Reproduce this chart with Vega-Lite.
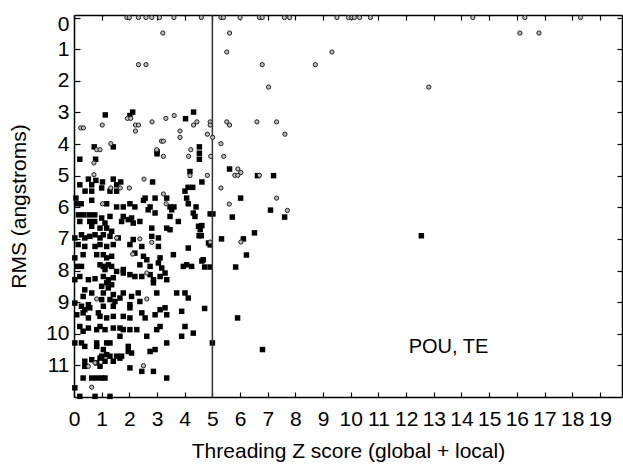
{
"$schema": "https://vega.github.io/schema/vega-lite/v6.json",
"width": 548, "height": 382,
"autosize": {"type": "none"},
"padding": {"left": 74, "top": 15, "right": 1, "bottom": 67},
"background": "white",
"config": {"view": {"stroke": null}, "font": "Liberation Sans",
 "axis": {"grid": false, "domainColor": "#000", "domainWidth": 1.5, "tickColor": "#000", "tickWidth": 1.2, "labelColor": "#000", "labelFont": "Liberation Sans", "titleFont": "Liberation Sans", "titleColor": "#000", "titleFontWeight": "normal"}},
"datasets": {
"pts": [
{"x":1.91,"y":0,"t":"c"},{"x":2.0,"y":0,"t":"c"},{"x":2.33,"y":0,"t":"c"},{"x":2.6,"y":0,"t":"c"},{"x":2.81,"y":0,"t":"c"},{"x":3.09,"y":0,"t":"c"},{"x":3.61,"y":0,"t":"c"},{"x":4.6,"y":0,"t":"c"},{"x":5.31,"y":0,"t":"c"},{"x":5.4,"y":0,"t":"c"},{"x":6.0,"y":0,"t":"c"},{"x":6.7,"y":0,"t":"c"},{"x":6.8,"y":0,"t":"c"},{"x":7.6,"y":0,"t":"c"},{"x":7.79,"y":0,"t":"c"},{"x":9.5,"y":0,"t":"c"},{"x":9.92,"y":0,"t":"c"},{"x":10.04,"y":0,"t":"c"},{"x":10.13,"y":0,"t":"c"},{"x":10.32,"y":0,"t":"c"},{"x":10.71,"y":0,"t":"c"},{"x":14.41,"y":0,"t":"c"},{"x":16.29,"y":0,"t":"c"},{"x":18.3,"y":0,"t":"c"},
{"x":3.21,"y":0.49,"t":"c"},{"x":5.62,"y":0.49,"t":"c"},{"x":16.11,"y":0.49,"t":"c"},{"x":16.8,"y":0.49,"t":"c"},
{"x":5.52,"y":1.09,"t":"c"},{"x":9.32,"y":1.09,"t":"c"},
{"x":2.33,"y":1.49,"t":"c"},{"x":2.6,"y":1.49,"t":"c"},{"x":6.8,"y":1.49,"t":"c"},{"x":8.72,"y":1.49,"t":"c"},
{"x":7.03,"y":2.2,"t":"c"},{"x":12.82,"y":2.2,"t":"c"},
{"x":1.93,"y":3.19,"t":"c"},{"x":2.05,"y":3.19,"t":"c"},{"x":0.24,"y":3.49,"t":"c"},{"x":0.34,"y":3.49,"t":"c"},{"x":1.02,"y":3.4,"t":"c"},{"x":2.22,"y":3.4,"t":"c"},{"x":2.33,"y":3.4,"t":"c"},{"x":2.22,"y":3.59,"t":"c"},{"x":2.82,"y":3.3,"t":"c"},{"x":3.32,"y":3.19,"t":"c"},{"x":3.62,"y":3.1,"t":"c"},{"x":3.83,"y":3.59,"t":"c"},{"x":3.83,"y":3.79,"t":"c"},{"x":4.32,"y":3.4,"t":"c"},{"x":4.44,"y":3.3,"t":"c"},{"x":4.92,"y":3.3,"t":"c"},{"x":4.92,"y":3.4,"t":"c"},{"x":4.82,"y":3.69,"t":"c"},{"x":5.52,"y":3.3,"t":"c"},{"x":5.62,"y":3.4,"t":"c"},{"x":6.61,"y":3.3,"t":"c"},{"x":7.32,"y":3.3,"t":"c"},{"x":7.62,"y":3.69,"t":"c"},
{"x":1.33,"y":3.99,"t":"c"},{"x":3.16,"y":3.91,"t":"c"},{"x":3.23,"y":3.91,"t":"c"},{"x":2.99,"y":4.18,"t":"c"},{"x":4.22,"y":4.18,"t":"c"},{"x":0.82,"y":4.18,"t":"c"},{"x":0.94,"y":4.18,"t":"c"},{"x":3.23,"y":4.39,"t":"c"},{"x":4.14,"y":4.39,"t":"c"},{"x":4.94,"y":4.39,"t":"c"},{"x":5.31,"y":3.99,"t":"c"},{"x":5.41,"y":4.39,"t":"c"},{"x":5.01,"y":3.79,"t":"c"},
{"x":0.72,"y":4.6,"t":"c"},{"x":0.72,"y":4.97,"t":"c"},{"x":4.19,"y":5.0,"t":"c"},{"x":4.82,"y":4.99,"t":"c"},{"x":5.92,"y":4.79,"t":"c"},{"x":5.81,"y":4.99,"t":"c"},{"x":5.92,"y":4.99,"t":"c"},{"x":6.03,"y":4.9,"t":"c"},{"x":6.7,"y":4.99,"t":"c"},
{"x":2.53,"y":5.11,"t":"c"},{"x":1.33,"y":5.39,"t":"c"},{"x":1.67,"y":5.39,"t":"c"},{"x":2.0,"y":5.39,"t":"c"},{"x":3.23,"y":5.58,"t":"c"},{"x":3.33,"y":5.89,"t":"c"},{"x":1.03,"y":5.89,"t":"c"},{"x":5.31,"y":5.39,"t":"c"},{"x":5.61,"y":5.9,"t":"c"},{"x":7.32,"y":5.71,"t":"c"},{"x":7.71,"y":6.1,"t":"c"},
{"x":1.54,"y":6.97,"t":"c"},{"x":2.38,"y":7.0,"t":"c"},{"x":2.81,"y":7.11,"t":"c"},{"x":4.92,"y":7.1,"t":"c"},{"x":6.03,"y":7.1,"t":"c"},{"x":2.12,"y":7.48,"t":"c"},{"x":2.63,"y":8.08,"t":"c"},{"x":0.82,"y":8.9,"t":"c"},{"x":2.63,"y":8.9,"t":"c"},{"x":0.52,"y":11.03,"t":"c"},{"x":0.76,"y":10.92,"t":"c"},{"x":2.51,"y":11.01,"t":"c"},{"x":0.64,"y":11.69,"t":"c"},
{"x":2.12,"y":2.99,"t":"s"},{"x":1.13,"y":3.08,"t":"s"},{"x":4.32,"y":2.99,"t":"s"},{"x":4.03,"y":3.2,"t":"s"},{"x":2.02,"y":3.1,"t":"s"},{"x":0.73,"y":4.09,"t":"s"},{"x":1.42,"y":4.09,"t":"s"},{"x":3.0,"y":4.24,"t":"s"},{"x":3.0,"y":4.31,"t":"s"},{"x":4.53,"y":4.09,"t":"s"},{"x":4.53,"y":4.29,"t":"s"},{"x":4.53,"y":4.48,"t":"s"},{"x":0.21,"y":4.48,"t":"s"},{"x":0.78,"y":4.48,"t":"s"},
{"x":5.62,"y":4.79,"t":"s"},{"x":6.63,"y":5.0,"t":"s"},{"x":7.21,"y":5.0,"t":"s"},{"x":4.62,"y":5.2,"t":"s"},{"x":6.02,"y":5.71,"t":"s"},{"x":7.1,"y":6.09,"t":"s"},{"x":4.92,"y":6.21,"t":"s"},{"x":5.02,"y":6.21,"t":"s"},{"x":5.72,"y":6.31,"t":"s"},{"x":7.61,"y":6.31,"t":"s"},{"x":6.52,"y":6.81,"t":"s"},{"x":5.33,"y":7.0,"t":"s"},{"x":6.12,"y":7.0,"t":"s"},{"x":4.92,"y":7.19,"t":"s"},{"x":6.23,"y":7.51,"t":"s"},{"x":4.62,"y":7.7,"t":"s"},{"x":4.72,"y":7.89,"t":"s"},{"x":4.92,"y":7.89,"t":"s"},{"x":5.84,"y":7.89,"t":"s"},{"x":4.72,"y":9.2,"t":"s"},{"x":4.62,"y":6.58,"t":"s"},{"x":4.6,"y":6.9,"t":"s"},{"x":5.91,"y":9.5,"t":"s"},{"x":5.0,"y":10.29,"t":"s"},{"x":6.81,"y":10.5,"t":"s"},{"x":12.55,"y":6.9,"t":"s"},
{"x":4.19,"y":4.87,"t":"s"},{"x":0.52,"y":5.11,"t":"s"},{"x":0.79,"y":5.15,"t":"s"},{"x":1.03,"y":5.2,"t":"s"},{"x":1.42,"y":5.11,"t":"s"},{"x":1.69,"y":5.2,"t":"s"},{"x":0.21,"y":5.29,"t":"s"},{"x":0.64,"y":5.29,"t":"s"},{"x":1.0,"y":5.39,"t":"s"},{"x":1.54,"y":5.29,"t":"s"},{"x":0.4,"y":5.49,"t":"s"},{"x":0.64,"y":5.49,"t":"s"},{"x":1.3,"y":5.49,"t":"s"},{"x":1.54,"y":5.49,"t":"s"},{"x":2.84,"y":5.2,"t":"s"},{"x":4.12,"y":5.37,"t":"s"},{"x":4.29,"y":5.37,"t":"s"},{"x":4.01,"y":5.49,"t":"s"},{"x":0.07,"y":5.71,"t":"s"},{"x":0.12,"y":5.89,"t":"s"},{"x":0.26,"y":5.89,"t":"s"},{"x":0.64,"y":5.78,"t":"s"},{"x":1.18,"y":5.89,"t":"s"},{"x":1.54,"y":5.99,"t":"s"},{"x":1.78,"y":5.99,"t":"s"},{"x":2.02,"y":5.89,"t":"s"},{"x":2.2,"y":5.99,"t":"s"},{"x":2.51,"y":5.78,"t":"s"},{"x":2.57,"y":5.71,"t":"s"},{"x":2.93,"y":5.71,"t":"s"},{"x":3.35,"y":5.71,"t":"s"},{"x":3.47,"y":5.99,"t":"s"},{"x":3.61,"y":5.99,"t":"s"},{"x":4.07,"y":5.71,"t":"s"},{"x":4.13,"y":5.89,"t":"s"},{"x":4.41,"y":5.99,"t":"s"},{"x":2.75,"y":5.99,"t":"s"},
{"x":0.16,"y":6.24,"t":"s"},{"x":0.35,"y":6.24,"t":"s"},{"x":0.55,"y":6.24,"t":"s"},{"x":0.75,"y":6.24,"t":"s"},{"x":1.0,"y":6.34,"t":"s"},{"x":1.3,"y":6.29,"t":"s"},{"x":1.78,"y":6.29,"t":"s"},{"x":2.08,"y":6.34,"t":"s"},{"x":2.68,"y":6.08,"t":"s"},{"x":2.93,"y":6.18,"t":"s"},{"x":3.47,"y":6.29,"t":"s"},{"x":3.53,"y":6.08,"t":"s"},{"x":4.31,"y":6.18,"t":"s"},{"x":4.37,"y":6.29,"t":"s"},{"x":0.21,"y":6.45,"t":"s"},{"x":0.57,"y":6.45,"t":"s"},{"x":0.75,"y":6.45,"t":"s"},{"x":1.12,"y":6.5,"t":"s"},{"x":1.72,"y":6.45,"t":"s"},{"x":1.96,"y":6.39,"t":"s"},{"x":2.14,"y":6.5,"t":"s"},{"x":2.38,"y":6.45,"t":"s"},{"x":3.77,"y":6.45,"t":"s"},{"x":0.64,"y":6.6,"t":"s"},{"x":0.94,"y":6.66,"t":"s"},{"x":1.18,"y":6.66,"t":"s"},{"x":1.36,"y":6.76,"t":"s"},{"x":2.81,"y":6.66,"t":"s"},{"x":3.35,"y":6.66,"t":"s"},{"x":3.47,"y":6.71,"t":"s"},{"x":4.5,"y":6.6,"t":"s"},{"x":4.56,"y":6.71,"t":"s"},
{"x":0.03,"y":6.97,"t":"s"},{"x":0.27,"y":6.87,"t":"s"},{"x":0.39,"y":6.97,"t":"s"},{"x":0.57,"y":6.92,"t":"s"},{"x":0.76,"y":6.87,"t":"s"},{"x":0.94,"y":6.97,"t":"s"},{"x":1.06,"y":6.87,"t":"s"},{"x":1.3,"y":6.92,"t":"s"},{"x":1.6,"y":6.97,"t":"s"},{"x":2.14,"y":7.02,"t":"s"},{"x":2.81,"y":6.92,"t":"s"},{"x":3.05,"y":6.97,"t":"s"},{"x":4.52,"y":6.9,"t":"s"},
{"x":0.15,"y":7.18,"t":"s"},{"x":0.39,"y":7.24,"t":"s"},{"x":0.76,"y":7.24,"t":"s"},{"x":0.94,"y":7.18,"t":"s"},{"x":1.18,"y":7.24,"t":"s"},{"x":1.42,"y":7.18,"t":"s"},{"x":2.02,"y":7.18,"t":"s"},{"x":2.45,"y":7.24,"t":"s"},{"x":3.05,"y":7.24,"t":"s"},{"x":4.13,"y":7.29,"t":"s"},{"x":4.86,"y":7.13,"t":"s"},
{"x":0.03,"y":7.6,"t":"s"},{"x":0.33,"y":7.5,"t":"s"},{"x":0.82,"y":7.5,"t":"s"},{"x":1.06,"y":7.5,"t":"s"},{"x":1.18,"y":7.6,"t":"s"},{"x":1.36,"y":7.55,"t":"s"},{"x":2.2,"y":7.45,"t":"s"},{"x":2.51,"y":7.55,"t":"s"},{"x":2.63,"y":7.66,"t":"s"},{"x":3.11,"y":7.6,"t":"s"},{"x":3.59,"y":7.5,"t":"s"},{"x":4.67,"y":7.66,"t":"s"},
{"x":0.1,"y":7.87,"t":"s"},{"x":0.27,"y":7.87,"t":"s"},{"x":0.94,"y":7.82,"t":"s"},{"x":1.06,"y":7.87,"t":"s"},{"x":1.24,"y":7.82,"t":"s"},{"x":1.36,"y":7.87,"t":"s"},{"x":2.38,"y":7.82,"t":"s"},{"x":2.75,"y":7.87,"t":"s"},{"x":3.05,"y":7.76,"t":"s"},{"x":3.17,"y":7.92,"t":"s"},{"x":3.95,"y":7.87,"t":"s"},{"x":4.07,"y":7.82,"t":"s"},{"x":4.25,"y":7.87,"t":"s"},
{"x":0.03,"y":8.29,"t":"s"},{"x":0.21,"y":8.19,"t":"s"},{"x":0.52,"y":8.29,"t":"s"},{"x":0.76,"y":8.26,"t":"s"},{"x":1.06,"y":8.19,"t":"s"},{"x":1.24,"y":8.29,"t":"s"},{"x":1.42,"y":8.23,"t":"s"},{"x":1.54,"y":8.03,"t":"s"},{"x":1.78,"y":8.08,"t":"s"},{"x":2.02,"y":8.13,"t":"s"},{"x":2.2,"y":8.19,"t":"s"},{"x":2.45,"y":8.19,"t":"s"},{"x":2.75,"y":8.13,"t":"s"},{"x":2.87,"y":8.29,"t":"s"},{"x":3.11,"y":8.19,"t":"s"},{"x":3.29,"y":8.08,"t":"s"},{"x":3.35,"y":8.29,"t":"s"},{"x":1.78,"y":7.97,"t":"s"},{"x":1.12,"y":7.97,"t":"s"},
{"x":1.18,"y":8.39,"t":"s"},{"x":1.36,"y":8.45,"t":"s"},{"x":1.0,"y":8.5,"t":"s"},{"x":1.24,"y":8.55,"t":"s"},{"x":0.39,"y":8.61,"t":"s"},{"x":2.87,"y":8.39,"t":"s"},
{"x":0.64,"y":8.71,"t":"s"},{"x":0.33,"y":8.82,"t":"s"},{"x":1.06,"y":8.71,"t":"s"},{"x":1.42,"y":8.76,"t":"s"},{"x":1.78,"y":8.71,"t":"s"},{"x":2.08,"y":8.82,"t":"s"},{"x":2.32,"y":8.71,"t":"s"},{"x":2.99,"y":8.71,"t":"s"},{"x":3.71,"y":8.71,"t":"s"},{"x":4.01,"y":8.71,"t":"s"},{"x":4.13,"y":8.87,"t":"s"},{"x":1.0,"y":8.92,"t":"s"},{"x":1.3,"y":8.92,"t":"s"},{"x":1.48,"y":8.98,"t":"s"},{"x":1.66,"y":8.87,"t":"s"},{"x":2.38,"y":8.98,"t":"s"},
{"x":0.03,"y":9.03,"t":"s"},{"x":0.27,"y":9.13,"t":"s"},{"x":0.52,"y":9.08,"t":"s"},{"x":0.39,"y":9.24,"t":"s"},{"x":0.57,"y":9.18,"t":"s"},{"x":1.06,"y":9.13,"t":"s"},{"x":1.42,"y":9.13,"t":"s"},{"x":2.02,"y":9.08,"t":"s"},{"x":2.02,"y":9.18,"t":"s"},{"x":3.11,"y":9.24,"t":"s"},{"x":3.29,"y":9.18,"t":"s"},{"x":3.89,"y":9.29,"t":"s"},
{"x":0.1,"y":9.4,"t":"s"},{"x":0.33,"y":9.34,"t":"s"},{"x":0.52,"y":9.5,"t":"s"},{"x":0.88,"y":9.34,"t":"s"},{"x":0.94,"y":9.45,"t":"s"},{"x":1.18,"y":9.5,"t":"s"},{"x":1.42,"y":9.45,"t":"s"},{"x":1.78,"y":9.45,"t":"s"},{"x":2.02,"y":9.5,"t":"s"},{"x":2.45,"y":9.34,"t":"s"},{"x":2.57,"y":9.5,"t":"s"},{"x":2.93,"y":9.4,"t":"s"},{"x":3.35,"y":9.4,"t":"s"},
{"x":0.21,"y":9.77,"t":"s"},{"x":0.52,"y":9.82,"t":"s"},{"x":0.82,"y":9.87,"t":"s"},{"x":0.94,"y":9.77,"t":"s"},{"x":1.12,"y":9.87,"t":"s"},{"x":1.42,"y":9.82,"t":"s"},{"x":1.66,"y":9.82,"t":"s"},{"x":1.78,"y":9.87,"t":"s"},{"x":2.02,"y":9.87,"t":"s"},{"x":2.27,"y":9.87,"t":"s"},{"x":1.66,"y":10.08,"t":"s"},{"x":2.99,"y":9.87,"t":"s"},{"x":3.11,"y":9.77,"t":"s"},{"x":4.01,"y":9.77,"t":"s"},{"x":4.31,"y":9.98,"t":"s"},{"x":3.89,"y":10.08,"t":"s"},{"x":2.63,"y":10.08,"t":"s"},{"x":0.33,"y":9.92,"t":"s"},
{"x":0.03,"y":10.29,"t":"s"},{"x":0.27,"y":10.29,"t":"s"},{"x":0.39,"y":10.4,"t":"s"},{"x":0.82,"y":10.29,"t":"s"},{"x":1.18,"y":10.29,"t":"s"},{"x":1.3,"y":10.29,"t":"s"},{"x":1.06,"y":10.5,"t":"s"},{"x":0.82,"y":10.4,"t":"s"},{"x":1.96,"y":10.4,"t":"s"},{"x":3.35,"y":10.29,"t":"s"},
{"x":1.96,"y":10.56,"t":"s"},{"x":2.08,"y":10.61,"t":"s"},{"x":2.75,"y":10.56,"t":"s"},{"x":2.93,"y":10.5,"t":"s"},{"x":1.0,"y":10.71,"t":"s"},{"x":1.18,"y":10.66,"t":"s"},{"x":1.3,"y":10.71,"t":"s"},{"x":1.54,"y":10.71,"t":"s"},{"x":1.66,"y":10.77,"t":"s"},{"x":0.94,"y":10.77,"t":"s"},{"x":1.42,"y":10.87,"t":"s"},{"x":1.72,"y":10.71,"t":"s"},
{"x":0.39,"y":10.87,"t":"s"},{"x":0.39,"y":11.03,"t":"s"},{"x":0.64,"y":10.82,"t":"s"},{"x":0.82,"y":10.92,"t":"s"},{"x":0.94,"y":11.03,"t":"s"},{"x":1.12,"y":10.87,"t":"s"},{"x":2.02,"y":11.08,"t":"s"},{"x":2.45,"y":11.19,"t":"s"},{"x":2.87,"y":11.19,"t":"s"},{"x":3.35,"y":11.4,"t":"s"},
{"x":0.33,"y":11.4,"t":"s"},{"x":0.64,"y":11.4,"t":"s"},{"x":0.82,"y":11.4,"t":"s"},{"x":1.0,"y":11.4,"t":"s"},{"x":1.12,"y":11.4,"t":"s"},
{"x":0.03,"y":11.71,"t":"s"},{"x":0.21,"y":11.98,"t":"s"},{"x":0.76,"y":11.98,"t":"s"},{"x":1.3,"y":11.98,"t":"s"}
],
"ref": [{"x": 5}],
"lab": [{"x": 13.53, "y": 10.43, "t": "POU, TE"}]
},
"layer": [
{
 "data": {"name": "pts"},
 "transform": [{"filter": "datum.t === 's'"}],
 "mark": {"type": "square", "size": 30, "color": "#000", "opacity": 1},
 "encoding": {
  "x": {"field": "x", "type": "quantitative", "scale": {"domain": [0, 19.8], "nice": false, "zero": false},
   "axis": {"orient": "bottom", "values": [0,1,2,3,4,5,6,7,8,9,10,11,12,13,14,15,16,17,18,19], "tickSize": -5, "labelFontSize": 21, "labelPadding": 16, "labelFlush": false, "labelOverlap": false, "title": "Threading Z score (global + local)", "titleFontSize": 21, "titlePadding": 11}},
  "y": {"field": "y", "type": "quantitative", "scale": {"domain": [-0.08, 12], "reverse": true, "nice": false, "zero": false},
   "axis": {"orient": "left", "values": [0,1,2,3,4,5,6,7,8,9,10,11], "tickSize": -6, "labelFontSize": 21, "labelPadding": 11, "labelFlush": 4, "labelFlushOffset": 4, "labelOverlap": false, "title": "RMS (angstroms)", "titleFontSize": 21, "titlePadding": 16}}
 }
},
{
 "data": {"name": "ref"},
 "mark": {"type": "rule", "color": "#333", "strokeWidth": 1.5},
 "encoding": {"x": {"field": "x", "type": "quantitative", "axis": {"orient": "top", "values": [0,1,2,3,4,5,6,7,8,9,10,11,12,13,14,15,16,17,18,19], "tickSize": -5, "labels": false, "title": null}}}
},
{
 "data": {"name": "pts"},
 "transform": [{"filter": "datum.t === 'c'"}],
 "mark": {"type": "point", "shape": "circle", "size": 18, "filled": false, "stroke": "#222", "strokeWidth": 1, "fill": "#bbb", "fillOpacity": 1, "opacity": 1},
 "encoding": {
  "x": {"field": "x", "type": "quantitative", "axis": null},
  "y": {"field": "y", "type": "quantitative", "axis": {"orient": "right", "values": [0,1,2,3,4,5,6,7,8,9,10,11], "tickSize": -5, "labels": false, "title": null}}
 }
},
{
 "data": {"name": "lab"},
 "mark": {"type": "text", "fontSize": 20, "font": "Liberation Sans", "color": "#000", "align": "center", "baseline": "middle"},
 "encoding": {
  "x": {"field": "x", "type": "quantitative", "axis": null},
  "y": {"field": "y", "type": "quantitative", "axis": null},
  "text": {"field": "t"}
 }
}
],
"resolve": {"axis": {"x": "independent", "y": "independent"}}
}
